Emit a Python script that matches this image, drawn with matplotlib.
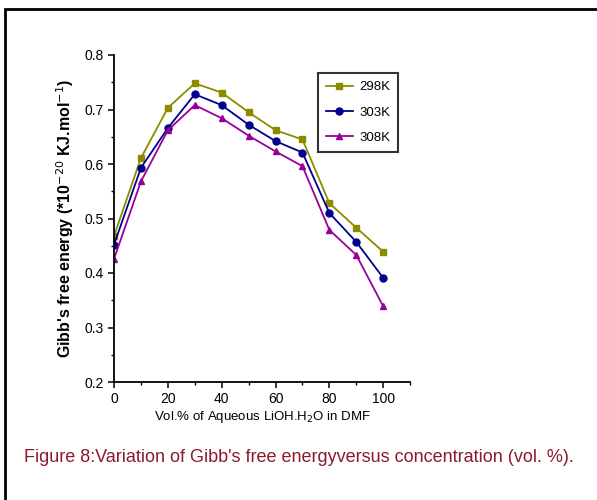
import matplotlib.pyplot as plt
from matplotlib.patches import Rectangle
from matplotlib.ticker import MultipleLocator

plt.rcParams['font.family'] = ['Liberation Sans', 'DejaVu Sans']

vol = [0, 10, 20, 30, 40, 50, 60, 70, 80, 90, 100]
g298 = [0.468, 0.611, 0.703, 0.748, 0.731, 0.695, 0.662, 0.645, 0.528, 0.483, 0.439]
g303 = [0.452, 0.593, 0.666, 0.728, 0.708, 0.672, 0.642, 0.621, 0.510, 0.457, 0.391]
g308 = [0.426, 0.568, 0.662, 0.708, 0.684, 0.652, 0.623, 0.596, 0.479, 0.433, 0.339]

fig = plt.figure(figsize=(5.97, 5.0), dpi=100)
ax = fig.add_axes([0.191, 0.236, 0.496, 0.654])

ax.plot(vol, g298, color='#8c8c00', marker='s', ms=5, lw=1.3, label='298K')
ax.plot(vol, g303, color='#00008b', marker='o', ms=5, lw=1.3, label='303K')
ax.plot(vol, g308, color='#990099', marker='^', ms=5, lw=1.3, label='308K')

ax.set_xlim(0, 110)
ax.set_ylim(0.2, 0.8)
ax.set_xticks([0, 20, 40, 60, 80, 100])
ax.set_yticks([0.2, 0.3, 0.4, 0.5, 0.6, 0.7, 0.8])
ax.xaxis.set_minor_locator(MultipleLocator(10))
ax.yaxis.set_minor_locator(MultipleLocator(0.05))
ax.spines['top'].set_visible(False)
ax.spines['right'].set_visible(False)
ax.spines['left'].set_linewidth(1.3)
ax.spines['bottom'].set_linewidth(1.3)
ax.tick_params(which='major', length=4, width=1.1, labelsize=10)
ax.tick_params(which='minor', length=2.5, width=1.0)

ax.set_xlabel('Vol.% of Aqueous LiOH.H$_2$O in DMF', fontsize=9.5, labelpad=2)
ax.set_ylabel("Gibb's free energy (*10$^{-20}$ KJ.mol$^{-1}$)", fontsize=11.5,
              fontweight='bold', labelpad=6)

leg = ax.legend(loc='upper left', bbox_to_anchor=(0.69, 0.945), fontsize=9.5,
                frameon=True, fancybox=False, handlelength=2.0, borderaxespad=0,
                borderpad=0.6, labelspacing=1.0, handletextpad=0.5)
leg.get_frame().set_edgecolor('black')
leg.get_frame().set_linewidth(1.5)

fig.text(0.5, 0.085, "Figure 8:Variation of Gibb's free energyversus concentration (vol. %).",
         ha='center', va='center', fontsize=13, color='#8b1a2a')

fig.patches.append(Rectangle((0.009, -0.05), 1.2, 1.032, transform=fig.transFigure,
                             fill=False, edgecolor='black', linewidth=2.0))

fig.savefig('out.png', dpi=100)
